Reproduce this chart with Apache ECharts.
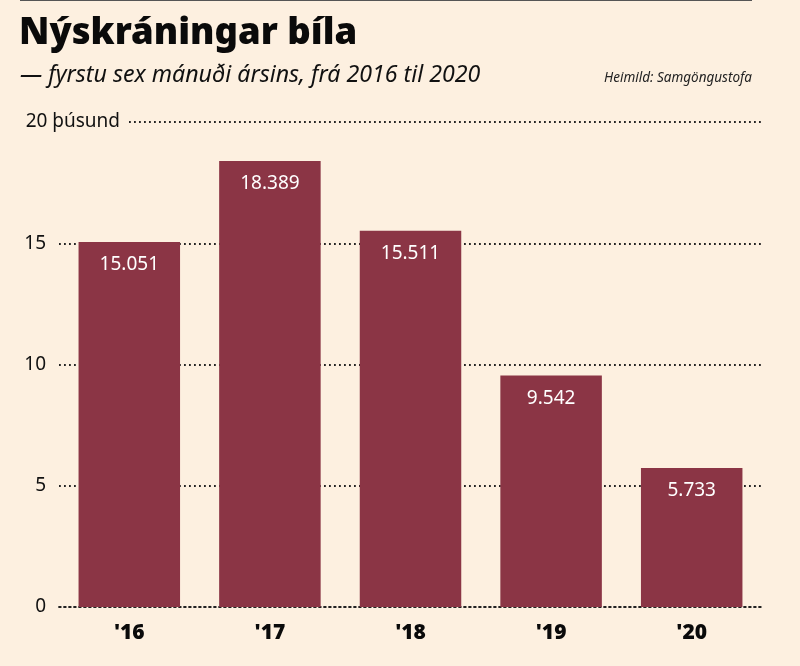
<!doctype html>
<html>
<head>
<meta charset="UTF-8">
<title>Nýskráningar bíla</title>
<style>
html, body { margin: 0; padding: 0; background: #fdf0e0; }
#main { width: 800px; height: 666px; }
</style>
</head>
<body>
<div id="main"></div>
<script src="https://cdn.jsdelivr.net/npm/echarts@6/dist/echarts.min.js"></script>
<script>
var years = ["'16", "'17", "'18", "'19", "'20"];
var registrations = [15051, 18389, 15511, 9542, 5733];
var yTicks = [0, 5000, 10000, 15000];
var topTick = [20000];

var font = '"Noto Sans", sans-serif';
var dotted = { color: '#222', width: 1.8, type: [1.8, 3.2] };

function formatCount(v) {
	return (v / 1000).toFixed(3);
}

var chart = echarts.init(document.getElementById('main'));
chart.setOption({
	backgroundColor: '#fdf0e0',
	animation: false,
	title: [{
		text: 'Nýskráningar bíla',
		left: 14, top: 10,
		textStyle: { fontFamily: font, fontWeight: 900, fontSize: 36.5, color: '#0a0a0a' }
	}, {
		text: '— fyrstu sex mánuði ársins, frá 2016 til 2020',
		left: 15, top: 59,
		textStyle: { fontFamily: font, fontStyle: 'italic', fontWeight: 'normal', fontSize: 23.2, color: '#111' }
	}, {
		text: 'Heimild: Samgöngustofa',
		right: 43, top: 66,
		textStyle: { fontFamily: font, fontStyle: 'italic', fontWeight: 'normal', fontSize: 13.5, color: '#222' }
	}],
	graphic: [{
		type: 'rect',
		shape: { x: 20, y: 0, width: 732, height: 1 },
		style: { fill: '#555' }
	}],
	grid: { left: 59, right: 38, top: 122, bottom: 59, outerBoundsMode: 'none' },
	xAxis: {
		type: 'category',
		data: years,
		axisTick: { show: false },
		axisLine: { show: true, onZero: true, lineStyle: dotted, z: 5 },
		axisLabel: { margin: 16, fontFamily: font, fontWeight: 900, fontSize: 21, color: '#0a0a0a' }
	},
	yAxis: [{
		type: 'value',
		min: 0, max: 20000, interval: 5000,
		axisLine: { show: false },
		axisTick: { show: false },
		splitLine: { show: true, lineStyle: dotted },
		axisLabel: {
			margin: 13,
			customValues: yTicks,
			formatter: function(v) { return String(v / 1000); },
			fontFamily: font, fontSize: 19, color: '#111'
		}
	}, {
		type: 'value',
		position: 'left',
		offset: -69,
		min: 0, max: 20000, interval: 5000,
		axisLine: { show: false },
		axisTick: { show: false },
		splitLine: { show: false },
		axisLabel: {
			margin: 0,
			customValues: topTick,
			formatter: function(v) { return (v / 1000) + ' þúsund'; },
			backgroundColor: '#fdf0e0',
			padding: [0, 8, 0, 0],
			fontFamily: font, fontSize: 19, color: '#111'
		}
	}],
	series: [{
		type: 'bar',
		data: registrations,
		barWidth: 101.5,
		itemStyle: { color: '#8b3545' },
		label: {
			show: true,
			position: 'insideTop',
			distance: 13,
			formatter: function(p) { return formatCount(p.value); },
			fontFamily: font, fontSize: 19, color: '#fff'
		}
	}]
});
</script>
</body>
</html>
